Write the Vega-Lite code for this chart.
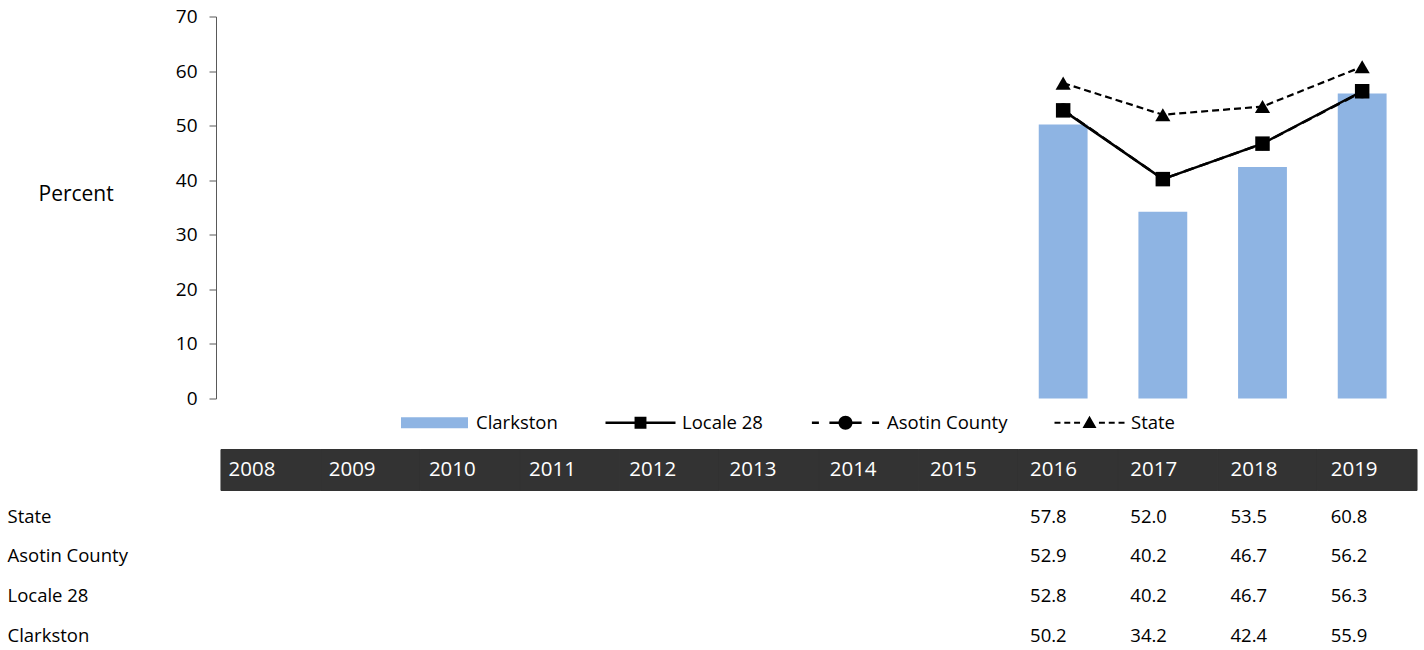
{
  "$schema": "https://vega.github.io/schema/vega-lite/v6.json",
  "background": "white",
  "padding": {"left": 7, "top": 7.5, "right": 0, "bottom": 0},
  "config": {"view": {"stroke": null}, "font": "Open Sans"},
  "datasets": {
    "vals": [
      {"year": "2016", "series": "State", "value": 57.8},
      {"year": "2017", "series": "State", "value": 52.0},
      {"year": "2018", "series": "State", "value": 53.5},
      {"year": "2019", "series": "State", "value": 60.8},
      {"year": "2016", "series": "Asotin County", "value": 52.9},
      {"year": "2017", "series": "Asotin County", "value": 40.2},
      {"year": "2018", "series": "Asotin County", "value": 46.7},
      {"year": "2019", "series": "Asotin County", "value": 56.2},
      {"year": "2016", "series": "Locale 28", "value": 52.8},
      {"year": "2017", "series": "Locale 28", "value": 40.2},
      {"year": "2018", "series": "Locale 28", "value": 46.7},
      {"year": "2019", "series": "Locale 28", "value": 56.3},
      {"year": "2016", "series": "Clarkston", "value": 50.2},
      {"year": "2017", "series": "Clarkston", "value": 34.2},
      {"year": "2018", "series": "Clarkston", "value": 42.4},
      {"year": "2019", "series": "Clarkston", "value": 55.9}
    ],
    "years": [
      {"year": "2008"}, {"year": "2009"}, {"year": "2010"}, {"year": "2011"},
      {"year": "2012"}, {"year": "2013"}, {"year": "2014"}, {"year": "2015"},
      {"year": "2016"}, {"year": "2017"}, {"year": "2018"}, {"year": "2019"}
    ]
  },
  "bounds": "flush",
  "spacing": 51,
  "resolve": {
    "scale": {"x": "independent", "y": "independent", "color": "independent"},
    "axis": {"x": "independent", "y": "independent"},
    "legend": {"color": "independent"}
  },
  "vconcat": [
    {
      "width": 1196,
      "height": 382,
      "data": {"name": "vals"},
      "encoding": {
        "x": {
          "field": "year", "type": "ordinal",
          "scale": {"type": "band", "domain": ["2008","2009","2010","2011","2012","2013","2014","2015","2016","2017","2018","2019"], "paddingInner": 0.51, "paddingOuter": 0.255},
          "axis": null
        },
        "y": {
          "field": "value", "type": "quantitative",
          "scale": {"domain": [0, 70], "nice": false, "zero": true},
          "axis": {
            "title": "Percent", "titleAngle": 0, "titleAlign": "left", "titleBaseline": "middle",
            "titleX": -178, "titleY": 178, "titleFontSize": 21, "titleFontWeight": "normal",
            "titleColor": "black", "titleFont": "Open Sans",
            "values": [0, 10, 20, 30, 40, 50, 60, 70], "grid": false,
            "domainColor": "#595959", "tickColor": "#595959", "tickSize": 7, "labelPadding": 12,
            "labelFontSize": 19, "labelColor": "black", "labelFont": "Open Sans"
          }
        }
      },
      "layer": [
        {
          "transform": [{"filter": "datum.series === 'Clarkston'"}],
          "mark": {"type": "bar"},
          "encoding": {
            "color": {
              "field": "series", "type": "nominal",
              "scale": {"domain": ["Clarkston", "Locale 28", "Asotin County", "State"], "range": ["#8EB4E3", "#000000", "#000000", "#000000"]},
              "legend": {
                "orient": "none", "legendX": 183.5, "legendY": 371, "direction": "horizontal", "columns": 4,
                "title": null, "symbolSize": 4900, "labelFontSize": 18.5, "labelFont": "Open Sans",
                "labelColor": "black", "labelOffset": 6.5, "columnPadding": 47, "padding": 0,
                "symbolStrokeWidth": 0, "symbolOpacity": 1,
                "encode": {
                  "symbols": {
                    "update": {
                      "shape": {"signal": "datum.value === 'Clarkston' ? 'M-0.957,-0.157H0.957V0.157H-0.957Z' : datum.value === 'Locale 28' ? 'M-1,-0.036H1V0.036H-1Z M-0.17,-0.17H0.17V0.17H-0.17Z' : datum.value === 'Asotin County' ? 'M-0.96,-0.036H-0.76V0.036H-0.96Z M-0.46,-0.036H-0.1V0.036H-0.46Z M0.1,-0.036H0.46V0.036H0.1Z M0.76,-0.036H0.96V0.036H0.76Z M-0.2,0A0.2,0.2 0 1,1 0.2,0A0.2,0.2 0 1,1 -0.2,0Z' : 'M-1,-0.03H-0.83V0.03H-1Z M-0.72,-0.03H-0.55V0.03H-0.72Z M-0.44,-0.03H-0.27V0.03H-0.44Z M0.27,-0.03H0.44V0.03H0.27Z M0.55,-0.03H0.72V0.03H0.55Z M0.83,-0.03H1V0.03H0.83Z M0,-0.2L0.2,0.15H-0.2Z'"}
                    }
                  }
                }
              }
            }
          }
        },
        {
          "transform": [{"filter": "datum.series === 'Asotin County'"}],
          "mark": {"type": "line", "color": "black", "strokeWidth": 2.5, "strokeDash": [10, 6]},
          "encoding": {}
        },
        {
          "transform": [{"filter": "datum.series === 'Asotin County'"}],
          "mark": {"type": "point", "shape": "circle", "filled": true, "color": "black", "size": 170, "opacity": 1},
          "encoding": {}
        },
        {
          "transform": [{"filter": "datum.series === 'Locale 28'"}],
          "mark": {"type": "line", "color": "black", "strokeWidth": 2.5},
          "encoding": {}
        },
        {
          "transform": [{"filter": "datum.series === 'Locale 28'"}],
          "mark": {"type": "point", "shape": "square", "filled": true, "color": "black", "size": 210, "opacity": 1},
          "encoding": {}
        },
        {
          "transform": [{"filter": "datum.series === 'State'"}],
          "mark": {"type": "line", "color": "black", "strokeWidth": 2.2, "strokeDash": [7, 4]},
          "encoding": {}
        },
        {
          "transform": [{"filter": "datum.series === 'State'"}],
          "mark": {"type": "point", "shape": "triangle-up", "filled": true, "color": "black", "size": 230, "opacity": 1},
          "encoding": {}
        }
      ]
    },
    {
      "bounds": "flush",
      "spacing": 6.2,
      "resolve": {
        "scale": {"x": "independent", "y": "independent"},
        "axis": {"x": "independent", "y": "independent"}
      },
      "vconcat": [
        {
          "width": 1206,
          "height": 41,
          "data": {"name": "years"},
          "resolve": {"scale": {"x": "independent"}},
          "layer": [
            {
              "mark": {"type": "rect", "color": "#333333", "stroke": "#333333", "strokeWidth": 1},
              "encoding": {
                "x": {"field": "year", "type": "ordinal", "scale": {"type": "band", "paddingInner": 0, "paddingOuter": 0.05}, "axis": null}
              }
            },
            {
              "mark": {"type": "text", "align": "left", "baseline": "middle", "dx": -39.4, "color": "white", "fontSize": 20.5, "font": "Open Sans"},
              "encoding": {
                "x": {"field": "year", "type": "ordinal", "scale": {"type": "point", "padding": 0.518}, "axis": null},
                "text": {"field": "year"}
              }
            }
          ]
        },
        {
          "width": 1206,
          "height": 158.7,
          "data": {"name": "vals"},
          "mark": {"type": "text", "align": "left", "baseline": "middle", "dx": -39.4, "fontSize": 18.5, "color": "black", "font": "Open Sans"},
          "encoding": {
            "x": {
              "field": "year", "type": "ordinal",
              "scale": {"type": "point", "domain": ["2008","2009","2010","2011","2012","2013","2014","2015","2016","2017","2018","2019"], "padding": 0.518},
              "axis": null
            },
            "y": {
              "field": "series", "type": "nominal",
              "sort": ["State", "Asotin County", "Locale 28", "Clarkston"],
              "scale": {"type": "band", "paddingInner": 0, "paddingOuter": 0},
              "axis": {
                "orient": "left", "title": null, "domain": false, "ticks": false, "tickSize": 0,
                "labelAlign": "left", "labelPadding": 209, "labelFontSize": 18.5, "labelColor": "black",
                "labelFont": "Open Sans", "labelBaseline": "middle", "labelOverlap": false
              }
            },
            "text": {"field": "value", "type": "quantitative", "format": ".1f"}
          }
        }
      ]
    }
  ]
}
